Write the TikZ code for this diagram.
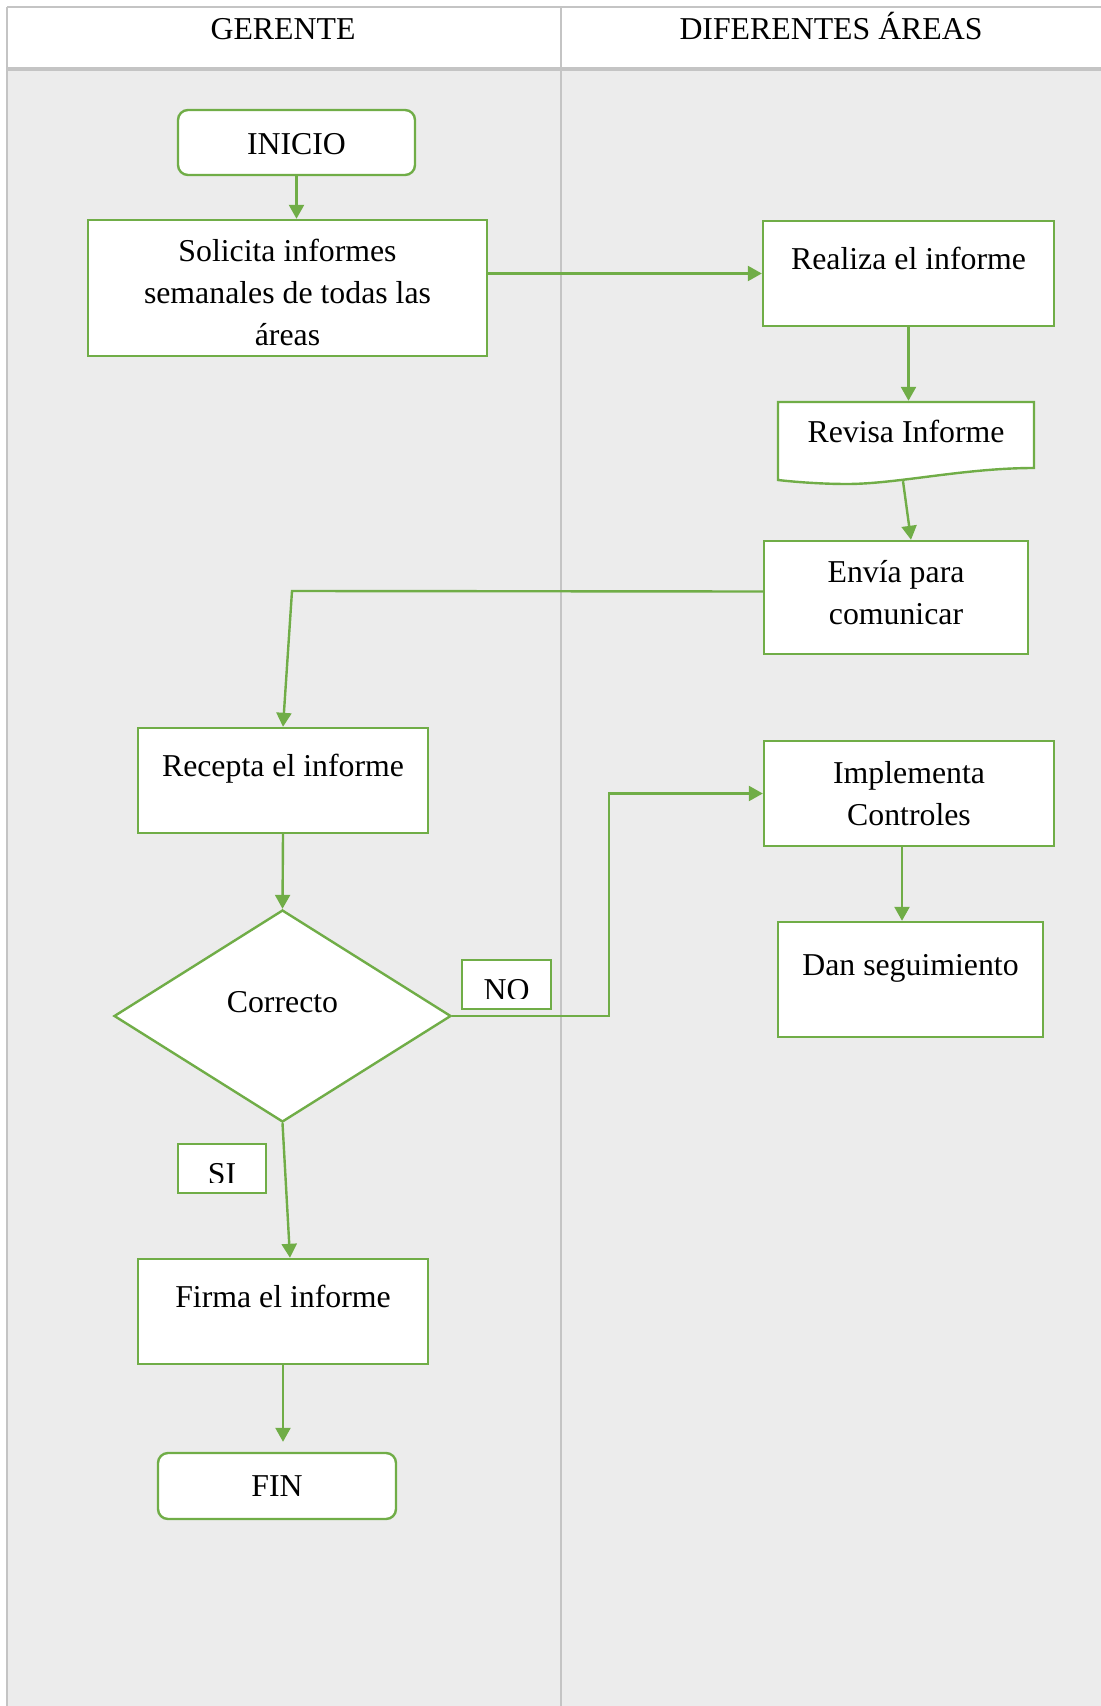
\documentclass[tikz,border=0pt]{standalone}
\usepackage{fontspec}
\setmainfont{Liberation Serif}
\usetikzlibrary{arrows.meta,shapes.geometric}
\definecolor{flowgreen}{HTML}{70AD47}
\definecolor{lanefill}{HTML}{ECECEC}
\definecolor{laneline}{HTML}{C4C4C4}
\tikzset{%
  every node/.style={font=\fontsize{15.9}{21}\selectfont},
  box/.style={draw=flowgreen, fill=white, line width=1.2pt,
    align=center, inner sep=0pt},
  topbox/.style={box, text height=11pt, text depth=15.4pt},
  terminal/.style={box, rounded corners=5pt},
  decision/.style={box, diamond, text height=11pt, text depth=14.4pt},
  tagbox/.style={box,
    path picture={
      \clip ([yshift=5.5pt]path picture bounding box.south west)
        rectangle (path picture bounding box.north east);
      \node [anchor=base] at ([yshift=-7.75pt]path picture bounding box.center) {#1};
    }},
  flow/.style={draw=flowgreen, line width=1.2pt,
    -{Triangle[length=7pt, width=7.5pt]}},
}

\begin{document}
\begin{tikzpicture}[x=0.5pt, y=-0.5pt]
	\useasboundingbox (0,0) rectangle (1101,1706);
	\fill [white] (0,0) rectangle (1101,1706);
	\fill [lanefill] (7,69) rectangle (1101,1706);
	\draw [laneline, line width=0.75pt] (7,7) -- (7,1706) (561,7) -- (561,1706);
	\draw [laneline, line width=1.3pt] (7,7) -- (1101,7);
	\draw [laneline, line width=1.7pt] (7,69) -- (1101,69);
	\node [anchor=base] (gerente) at (283,39.6) {GERENTE};
	\node [anchor=base] (areas) at (831,39.6) {DIFERENTES ÁREAS};

	\node [terminal, minimum width=118.5pt, minimum height=32.5pt] (inicio) at (296.5,142.5) {\rule{0pt}{12.6pt}INICIO};
	\node [box, minimum width=199.5pt, minimum height=68pt] (solicita) at (287.5,288)
	  {\rule{0pt}{15.3pt}Solicita informes\\semanales de todas las\\áreas};
	\node [topbox, minimum width=145.5pt, minimum height=52.5pt] (realiza) at (908.5,273.5) {Realiza el informe};

	% hoja con borde ondulado
	\draw [flowgreen, fill=white, line width=1.2pt] (778,402) -- (1034,402) -- (1034,468)
	  .. controls (964,468) and (897,484) .. (847,484)
	  .. controls (822,484) and (795,482) .. (778,480) -- cycle;
	\node [box, draw=none, fill=none, text height=11pt, text depth=9.4pt,
	  minimum width=128pt, minimum height=39pt] (revisa) at (906,441) {Revisa Informe};

	\node [box, minimum width=132pt, minimum height=56.5pt] (envia) at (896,597.5)
	  {Envía para\\comunicar\rule[-5.4pt]{0pt}{5.4pt}};
	\node [topbox, minimum width=145pt, minimum height=52.5pt] (recepta) at (283,780.5) {Recepta el informe};
	\node [decision, minimum width=168.5pt, minimum height=106pt] (correcto) at (282.5,1016) {Correcto};
	\node [tagbox=NO, minimum width=44.5pt, minimum height=24.5pt] (no) at (506.5,984.5) {};
	\node [tagbox=SI, minimum width=44pt, minimum height=24.5pt] (si) at (222,1168.5) {};
	\node [box, minimum width=145pt, minimum height=52.5pt] (implementa) at (909,793.5) {Implementa\\Controles};
	\node [topbox, minimum width=132.5pt, minimum height=57.5pt] (dan) at (910.5,979.5) {Dan seguimiento};
	\node [topbox, minimum width=145pt, minimum height=52.5pt] (firma) at (283,1311.5) {Firma el informe};
	\node [terminal, minimum width=119pt, minimum height=33pt] (fin) at (277,1486) {FIN};

	\draw [flow] (inicio.south) -- (inicio.south |- solicita.north);
	\draw [flow] (solicita.east |- realiza.west) -- (realiza.west);
	\draw [flow] (realiza.south) -- (realiza.south |- revisa.north);
	\draw [flow] ([xshift=-1.5pt]revisa.south) -- ([xshift=7.5pt]envia.north);
	\coordinate (vuelta) at (292,591);
	\draw [flow] ([yshift=3pt]envia.west) -- (vuelta) -- (recepta.north);
	\draw [flow] (recepta.south) -- (correcto.north);
	\draw [flow] (correcto.east) -- ++(157,0) |- (implementa.west);
	\draw [flow] ([xshift=-3.5pt]implementa.south) -- ([xshift=-3.5pt]implementa.south |- dan.north);
	\draw [flow] (correcto.south) -- ([xshift=3.5pt]firma.north);
	\draw [flow, shorten >=5pt] (firma.south) -- (firma.south |- fin.north);
\end{tikzpicture}
\end{document}
